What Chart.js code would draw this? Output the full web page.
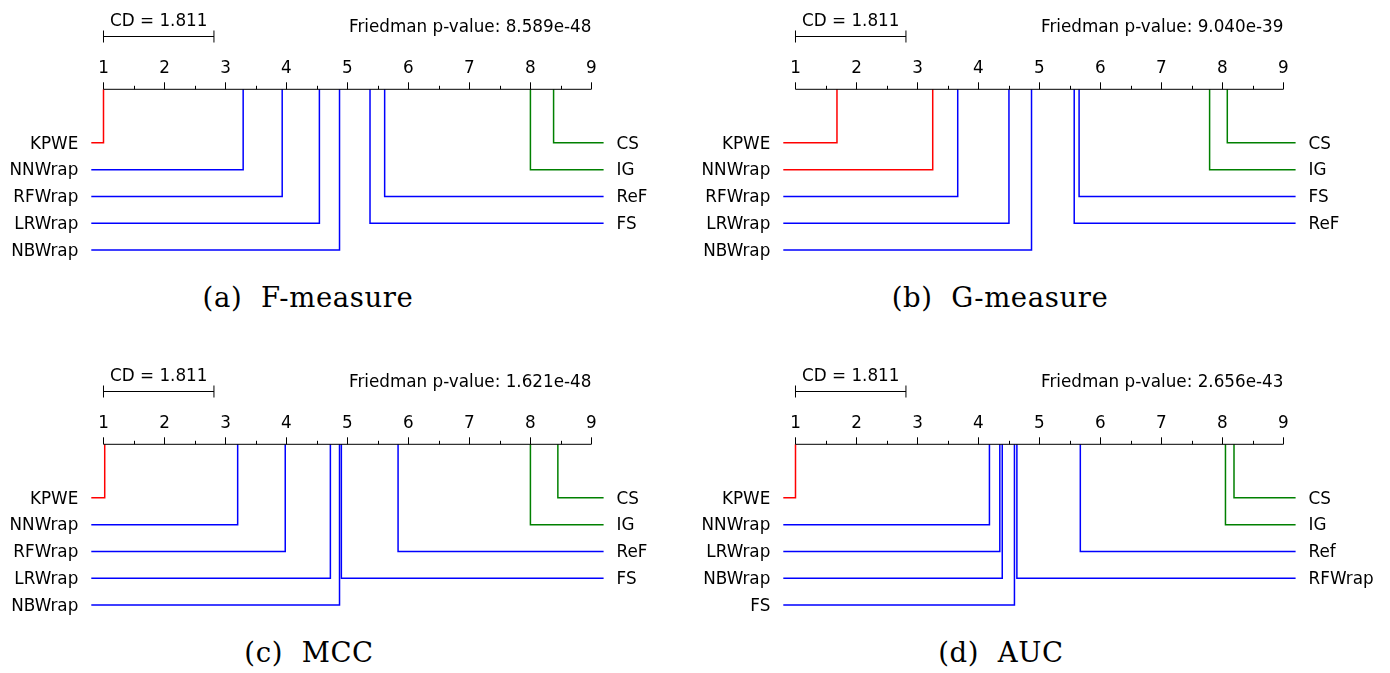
<!DOCTYPE html>
<html>
<head>
<meta charset="utf-8">
<script src="https://cdn.jsdelivr.net/npm/chart.js@4.4.0/dist/chart.umd.min.js"></script>
<style>
  html, body { margin: 0; padding: 0; background: #fff; }
  body { width: 1390px; height: 673px; position: relative; overflow: hidden; }
  .panel { position: absolute; width: 692px; height: 275px; }
  .caption {
    position: absolute; width: 400px; text-align: center;
    font-family: 'DejaVu Serif', serif; font-size: 27.5px; line-height: 27px;
    letter-spacing: 0.6px; color: #000; white-space: pre;
  }
</style>
</head>
<body>
<div class="panel" style="left:0;top:0"><canvas id="cd-f" width="692" height="275"></canvas></div>
<div class="panel" style="left:692px;top:0"><canvas id="cd-g" width="692" height="275"></canvas></div>
<div class="panel" style="left:0;top:355px"><canvas id="cd-mcc" width="692" height="275"></canvas></div>
<div class="panel" style="left:692px;top:355px"><canvas id="cd-auc" width="692" height="275"></canvas></div>

<div class="caption" style="left:108px;top:284px">(a)  F-measure</div>
<div class="caption" style="left:800px;top:284px">(b)  G-measure</div>
<div class="caption" style="left:109px;top:639px">(c)  MCC</div>
<div class="caption" style="left:801px;top:639px">(d)  AUC</div>

<script>
// ── Data (average ranks) ──────────────────────────────────────────────────
const CD_VALUE   = 1.811;
const RANK_TICKS = [1, 2, 3, 4, 5, 6, 7, 8, 9];

const namesF   = ['KPWE', 'NNWrap', 'RFWrap', 'LRWrap', 'NBWrap', 'FS', 'ReF', 'IG', 'CS'];
const ranksF   = [1.00, 3.29, 3.93, 4.54, 4.87, 5.37, 5.61, 8.00, 8.38];
const groupsF  = [0, 1, 1, 1, 1, 1, 1, 2, 2];
const pValueF  = '8.589e-48';

const namesG   = ['KPWE', 'NNWrap', 'RFWrap', 'LRWrap', 'NBWrap', 'ReF', 'FS', 'IG', 'CS'];
const ranksG   = [1.68, 3.25, 3.66, 4.50, 4.87, 5.57, 5.65, 7.79, 8.08];
const groupsG  = [0, 0, 1, 1, 1, 1, 1, 2, 2];
const pValueG  = '9.040e-39';

const namesM   = ['KPWE', 'NNWrap', 'RFWrap', 'LRWrap', 'NBWrap', 'FS', 'ReF', 'IG', 'CS'];
const ranksM   = [1.02, 3.20, 3.98, 4.72, 4.87, 4.90, 5.83, 8.00, 8.45];
const groupsM  = [0, 1, 1, 1, 1, 1, 1, 2, 2];
const pValueM  = '1.621e-48';

const namesA   = ['KPWE', 'NNWrap', 'LRWrap', 'NBWrap', 'FS', 'RFWrap', 'Ref', 'IG', 'CS'];
const ranksA   = [1.00, 4.18, 4.35, 4.39, 4.59, 4.63, 5.67, 8.05, 8.19];
const groupsA  = [0, 1, 1, 1, 1, 1, 1, 2, 2];
const pValueA  = '2.656e-43';

// ── Style ─────────────────────────────────────────────────────────────────
const GROUP_COLORS = ['#ff0000', '#0000ff', '#008000'];
const SANS = "16.8px 'DejaVu Sans', sans-serif";
const X_MIN = 0.8, X_MAX = 9.2;   // lines run a little past the rank axis
const FIRST_ROW = 2;

// ── Axis / labels plugin ──────────────────────────────────────────────────
const cdAxis = {
  id: 'cdAxis',
  afterDraw(chart) {
    const { ctx, scales: { x, y } } = chart;
    const o = chart.options.plugins.cdAxis;
    const ay = y.getPixelForValue(0);
    const x1 = x.getPixelForValue(RANK_TICKS[0]);
    const x9 = x.getPixelForValue(RANK_TICKS[RANK_TICKS.length - 1]);

    ctx.save();
    ctx.strokeStyle = '#000';
    ctx.fillStyle = '#000';
    ctx.lineWidth = 1;
    ctx.font = SANS;

    // axis + ticks
    ctx.beginPath();
    ctx.moveTo(x1, ay); ctx.lineTo(x9, ay);
    for (let v = RANK_TICKS[0]; v <= x.max - 0.2 + 1e-9; v += 0.5) {
      const px = Math.round(x.getPixelForValue(v)) + 0.5;
      const len = Number.isInteger(v) ? 7 : 3.5;
      ctx.moveTo(px, ay); ctx.lineTo(px, ay - len);
    }
    ctx.stroke();

    ctx.textAlign = 'center';
    ctx.textBaseline = 'alphabetic';
    RANK_TICKS.forEach(t => ctx.fillText(String(t), x.getPixelForValue(t), ay - 16.5));

    // critical difference bar
    const cdY = Math.round(ay - 53) + 0.5;
    const cdR = x.getPixelForValue(RANK_TICKS[0] + CD_VALUE);
    ctx.beginPath();
    ctx.moveTo(x1, cdY); ctx.lineTo(cdR, cdY);
    ctx.moveTo(x1, cdY - 6); ctx.lineTo(x1, cdY + 6);
    ctx.moveTo(cdR, cdY - 6); ctx.lineTo(cdR, cdY + 6);
    ctx.stroke();
    ctx.fillText('CD = ' + CD_VALUE.toFixed(3), (x1 + cdR) / 2, ay - 63.3);

    ctx.textAlign = 'right';
    ctx.fillText('Friedman p-value: ' + o.pValue, x9, ay - 57);

    // method names
    o.rows.forEach(r => {
      const py = y.getPixelForValue(r.row) + 5.8;
      if (r.left) {
        ctx.textAlign = 'right';
        ctx.fillText(r.name, x.getPixelForValue(X_MIN) - 13, py);
      } else {
        ctx.textAlign = 'left';
        ctx.fillText(r.name, x.getPixelForValue(X_MAX) + 13, py);
      }
    });
    ctx.restore();
  }
};

// ── Chart factory ─────────────────────────────────────────────────────────
function mkCD(id, names, ranks, groups, pValue) {
  const idx = names.map((_, i) => i).sort((a, b) => ranks[a] - ranks[b]);
  const nLeft = Math.ceil(names.length / 2);
  const rows = [];
  idx.slice(0, nLeft).forEach((i, k) => rows.push({ i, left: true, row: FIRST_ROW + k }));
  idx.slice(nLeft).reverse().forEach((i, k) => rows.push({ i, left: false, row: FIRST_ROW + k }));

  const datasets = rows.map(r => ({
    data: [
      { x: ranks[r.i], y: 0 },
      { x: ranks[r.i], y: r.row },
      { x: r.left ? X_MIN : X_MAX, y: r.row },
    ],
    borderColor: GROUP_COLORS[groups[r.i]],
    borderWidth: 1.5,
    pointRadius: 0,
    tension: 0,
    fill: false,
    clip: false,
  }));

  return new Chart(document.getElementById(id), {
    type: 'line',
    data: { datasets },
    plugins: [cdAxis],
    options: {
      responsive: false,
      animation: false,
      events: [],
      layout: { padding: { left: 91.3, right: 88.4, top: 89.3, bottom: 25 } },
      scales: {
        x: { type: 'linear', min: X_MIN, max: X_MAX, display: false },
        y: { type: 'linear', min: 0, max: FIRST_ROW + nLeft - 1, reverse: true, display: false },
      },
      plugins: {
        legend: { display: false },
        tooltip: { enabled: false },
        cdAxis: { pValue, rows: rows.map(r => ({ name: names[r.i], left: r.left, row: r.row })) },
      },
    },
  });
}

mkCD('cd-f',   namesF, ranksF, groupsF, pValueF);
mkCD('cd-g',   namesG, ranksG, groupsG, pValueG);
mkCD('cd-mcc', namesM, ranksM, groupsM, pValueM);
mkCD('cd-auc', namesA, ranksA, groupsA, pValueA);
</script>
</body>
</html>
